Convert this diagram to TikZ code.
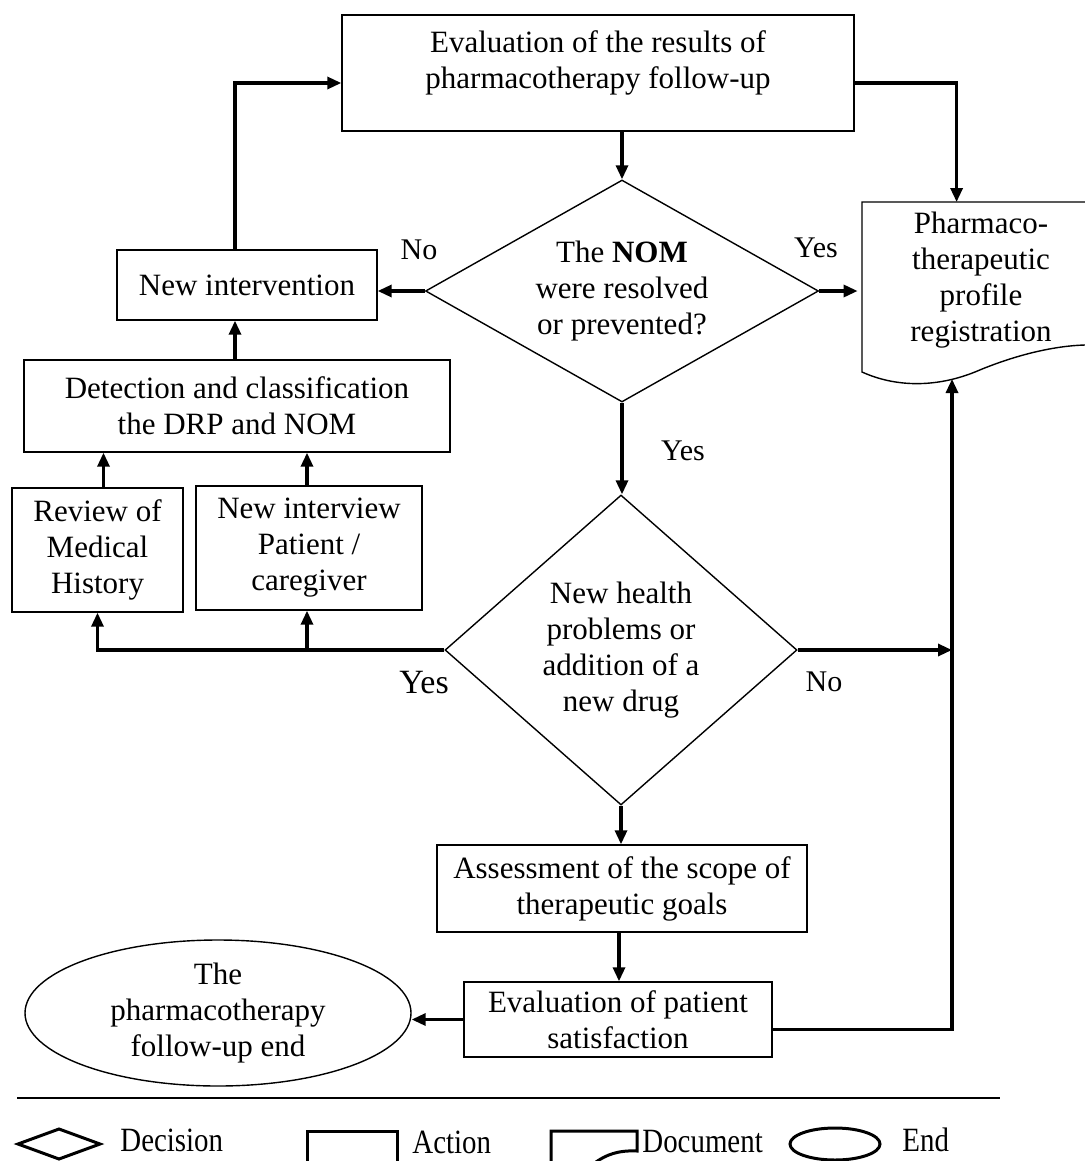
\documentclass[tikz,border=0pt]{standalone}
\usepackage{fontspec}
\setmainfont{Liberation Serif}
\usetikzlibrary{shapes.geometric,arrows.meta}
\begin{document}
\begin{tikzpicture}[x=0.5pt,y=-0.5pt,
  txt/.style={font=\fontsize{15.5}{18}\selectfont,align=center},
  box/.style={draw,line width=0.7pt,rectangle,inner sep=0pt,txt},
  dia/.style={draw,line width=0.7pt,diamond,inner sep=0pt,txt},
  conn/.style={line width=1.6pt},
  arr/.style={conn,-{Triangle[length=7pt,width=6pt]}},
  lbl/.style={font=\fontsize{15}{18}\selectfont},
  lgd/.style={line width=1.5pt},
  lgtxt/.style={font=\fontsize{17}{19}\selectfont,anchor=west,inner sep=1pt}]
\useasboundingbox (0,0) rectangle (1085,1161);
\fill[white] (0,0) rectangle (1085,1161);

% nodes
\node[box,minimum width=256pt,minimum height=58pt,
  label={[txt,yshift=5pt]center:Evaluation of the results of\\pharmacotherapy follow-up}] (top) at (598,73) {};
\node[dia,minimum width=196.5pt,minimum height=111pt,shape aspect=1.8] (d1) at (622,291)
  {The \textbf{NOM}\\were resolved\\or prevented?};
\node[box,minimum width=130pt,minimum height=35pt] (newint) at (247,285) {New intervention};
\node[box,minimum width=213pt,minimum height=46pt] (detect) at (237,406) {Detection and classification\\the DRP and NOM};
\node[box,minimum width=85.5pt,minimum height=62pt] (review) at (97.5,550) {Review of\\Medical\\History};
\node[box,minimum width=113pt,minimum height=62pt] (interview) at (309,548) {New interview\\Patient /\\caregiver};
\node[dia,minimum width=176pt,minimum height=155pt,shape aspect=1.14] (d2) at (621,650)
  {New health\\problems or\\addition of a\\new drug};
\node[box,minimum width=185pt,minimum height=43.5pt] (assess) at (622,888.5) {Assessment of the scope of\\therapeutic goals};
\node[box,minimum width=154pt,minimum height=37.5pt] (evalpat) at (618,1019.5) {Evaluation of patient\\satisfaction};
\node[draw,line width=0.7pt,ellipse,inner sep=0pt,minimum width=193pt,minimum height=73pt,txt] (endn) at (218,1013)
  {The\\pharmacotherapy\\follow-up end};
\node[rectangle,inner sep=0pt,minimum width=119pt,minimum height=74pt,txt] (doc) at (981,280)
  {Pharmaco-\\therapeutic\\profile\\registration};
\draw[line width=0.7pt] (1085,202) -- (862,202) -- (862,372)
  .. controls (895,387) and (935,388) .. (975,372)
  .. controls (1010,357) and (1050,346) .. (1085,345);
\coordinate (docB) at (952,379);

% labels
\node[lbl] (no1) at (419,250) {No};
\node[lbl] (yes1) at (816,248) {Yes};
\node[lbl] (yes2) at (683,451) {Yes};
\node[font=\fontsize{17}{20}\selectfont] (yes3) at (424,683) {Yes};
\node[lbl] (no2) at (824,682) {No};

% connectors
\draw[arr] (top.south -| d1.north) -- (d1.north);
\draw[arr] ([yshift=-5pt]top.east) -| ([xshift=47.5pt]doc.north west |- 0,202);
\draw[arr] (d1.west) -- (d1.west -| newint.east);
\draw[arr] (d1.east) -- ([xshift=-2pt]d1.east -| doc.west);
\draw[arr] ([xshift=-6pt]newint.north) |- ([yshift=-5pt]top.west);
\draw[arr] ([xshift=-6pt]newint.north |- detect.north) -- ([xshift=-6pt]newint.south);
\draw[arr] ([xshift=3pt]review.north) -- ([xshift=3pt]review.north |- detect.south);
\draw[arr] ([xshift=-1pt]interview.north) -- ([xshift=-1pt]interview.north |- detect.south);
\draw[arr] (d1.south) -- (d1.south |- d2.north);
\draw[arr] (d2.west) -| (review.south);
\draw[arr] ([xshift=-1pt]d2.west -| interview.south) -- ([xshift=-1pt]interview.south);
\draw[arr] (d2.east) -- (d2.east -| docB);
\draw[arr] ([yshift=-5pt]evalpat.east) -| (docB);
\draw[arr] (d2.south) -- (d2.south |- assess.north);
\draw[arr] ([xshift=-1.5pt]assess.south) -- ([xshift=-1.5pt]assess.south |- evalpat.north);
\draw[arr] (evalpat.west) -- (evalpat.west -| endn.east);

% separator and legend
\draw[line width=1pt] (17,1098) -- (1000,1098);
\draw[lgd] (18,1144) -- (59,1129) -- (100,1144) -- (59,1159) -- cycle;
\node[lgtxt] (lg1) at (118,1140) {\scalebox{0.85}[1]{Decision}};
\draw[lgd] (307,1131) rectangle (397,1162);
\node[lgtxt] (lg2) at (410,1142) {\scalebox{0.85}[1]{Action}};
\draw[lgd] (551,1162) -- (551,1131) -- (637,1131) -- (637,1151)
  .. controls (618,1150) and (606,1155) .. (596,1162);
\node[lgtxt] (lg3) at (640,1142) {\scalebox{0.85}[1]{Document}};
\draw[lgd] (835,1144) ellipse [x radius=45, y radius=16];
\node[lgtxt] (lg4) at (900,1140) {\scalebox{0.85}[1]{End}};
\end{tikzpicture}
\end{document}
